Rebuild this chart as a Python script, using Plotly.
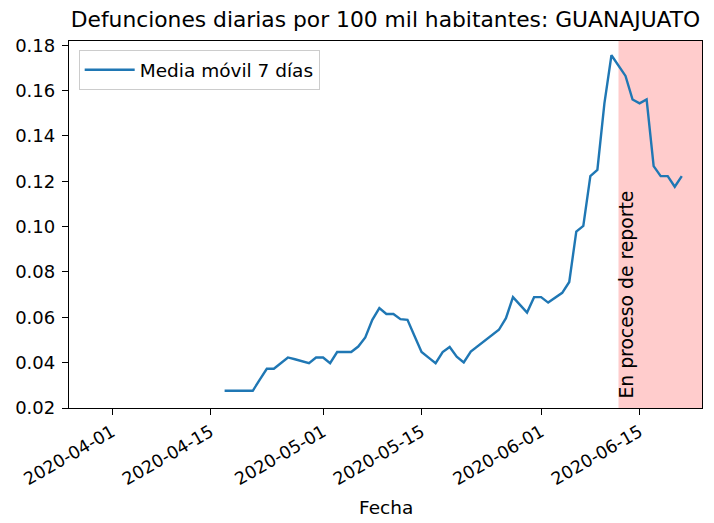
import pandas as pd
import plotly.graph_objects as go

# ---- data ----
start_date = "2020-04-17"
end_date = "2020-06-21"
media_movil = [
    0.0276, 0.0276, 0.0276, 0.0276, 0.0276, 0.0325, 0.0373, 0.0373, 0.0400, 0.0423,
    0.0415, 0.0406, 0.0398, 0.0423, 0.0423, 0.0398, 0.0447, 0.0447, 0.0447, 0.0471,
    0.0511, 0.0589, 0.0641, 0.0615, 0.0615, 0.0592, 0.0589, 0.0518, 0.0447, 0.0422,
    0.0398, 0.0447, 0.0469, 0.0426, 0.0401, 0.0449, 0.0474, 0.0499, 0.0523, 0.0545,
    0.0596, 0.0689, 0.0655, 0.0621, 0.0689, 0.0689, 0.0665, 0.0686, 0.0708, 0.0756,
    0.0978, 0.1003, 0.1223, 0.1250, 0.1544, 0.1756, 0.1712, 0.1665, 0.1561, 0.1544,
    0.1561, 0.1267, 0.1223, 0.1223, 0.1176, 0.1223,
]
fechas = pd.date_range(start_date, end_date, freq="D")

reporte_inicio = "2020-06-12"
x_ticks = ["2020-04-01", "2020-04-15", "2020-05-01", "2020-05-15", "2020-06-01", "2020-06-15"]
y_ticks = [0.02, 0.04, 0.06, 0.08, 0.10, 0.12, 0.14, 0.16, 0.18]

titulo = "Defunciones diarias por 100 mil habitantes: GUANAJUATO"
etiqueta_x = "Fecha"
nombre_serie = "Media móvil 7 días"
texto_reporte = "En proceso de reporte"

FONT = "DejaVu Sans"
X_RANGE = ["2020-03-25 21:00", "2020-06-23 21:00"]
W, H = 706, 515  # page body has an 8px default margin

fig = go.Figure()
fig.add_trace(go.Scatter(
    x=fechas, y=media_movil, mode="lines", name=nombre_serie,
    line=dict(color="#1f77b4", width=2.4),
))

fig.add_shape(type="rect", xref="x", yref="paper",
              x0=reporte_inicio, x1=X_RANGE[1], y0=0, y1=1,
              fillcolor="rgba(255,0,0,0.2)", line_width=0, layer="below")

fig.add_annotation(text=texto_reporte, textangle=-90, x=reporte_inicio, y=0.0237,
                   xref="x", yref="y", xanchor="left", yanchor="bottom", xshift=-3,
                   showarrow=False, font=dict(family=FONT, size=18.8, color="black"),
                   borderpad=0)

fig.add_annotation(text=etiqueta_x, x=0.5, y=-0.271, xref="paper", yref="paper",
                   xanchor="center", yanchor="middle", showarrow=False,
                   font=dict(family=FONT, size=18.5, color="black"))

fig.update_layout(
    width=W, height=H,
    margin=dict(l=61, r=12, t=33, b=115, autoexpand=False),
    paper_bgcolor="white", plot_bgcolor="white",
    font=dict(family=FONT, size=18, color="black"),
    title=dict(text=titulo, x=0.5, xanchor="center", xref="paper", y=1 - 11 / H,
               yref="container", yanchor="middle",
               font=dict(family=FONT, size=21.8, color="black")),
    showlegend=True,
    legend=dict(x=0.0153, y=0.975, xanchor="left", yanchor="top", itemwidth=50,
                bgcolor="rgba(255,255,255,0.8)", bordercolor="#cccccc", borderwidth=1,
                font=dict(family=FONT, size=18.5, color="black")),
)

fig.update_xaxes(
    type="date", range=X_RANGE, automargin=False,
    tickvals=x_ticks, ticktext=x_ticks, tickangle=-30,
    tickfont=dict(family=FONT, size=17.5, color="black"),
    showgrid=False, zeroline=False,
    showline=True, mirror=True, linecolor="black", linewidth=1.3,
    ticks="outside", ticklen=6, tickwidth=1.3, tickcolor="black",
)
fig.update_yaxes(
    range=[0.02, 0.1819], automargin=False,
    tickvals=y_ticks, ticktext=[f"{v:.2f}" for v in y_ticks],
    tickfont=dict(family=FONT, size=18, color="black"), ticklabelstandoff=3,
    showgrid=False, zeroline=False,
    showline=True, mirror=True, linecolor="black", linewidth=1.3,
    ticks="outside", ticklen=6, tickwidth=1.3, tickcolor="black",
)

fig.write_html("out.html")
